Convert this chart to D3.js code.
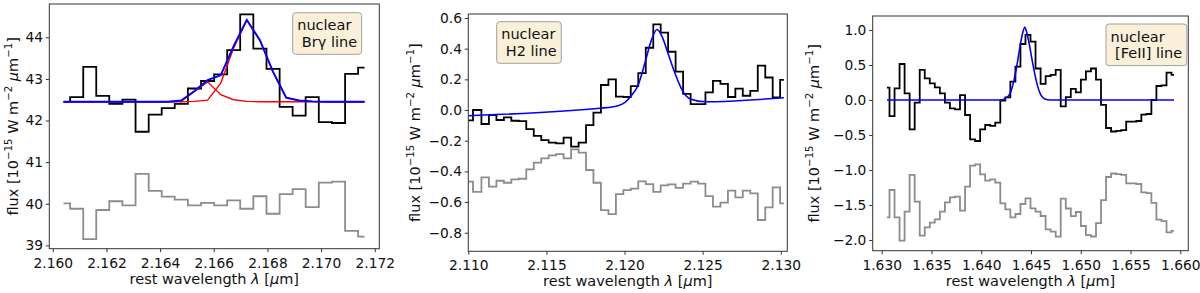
<!DOCTYPE html>
<html><head><meta charset="utf-8">
<script src="https://cdn.jsdelivr.net/npm/d3@7"></script>
<style>
html,body{margin:0;padding:0;background:#fff;}
svg{display:block;font-family:"DejaVu Sans",sans-serif;}
text{white-space:pre;}
</style></head><body>
<svg id="chart" width="1200" height="293"></svg>
<script>
// ---------------- Panel 1: nuclear Br-gamma line ----------------
const brgWave = [2.16040,2.16089,2.16138,2.16186,2.16235,2.16284,2.16333,2.16382,2.16430,2.16479,2.16528,2.16577,2.16626,2.16674,2.16723,2.16772,2.16821,2.16870,2.16918,2.16967,2.17016,2.17065,2.17114,2.17162];
const brgFlux = [42.45,42.56,43.29,42.59,42.40,42.50,41.73,42.14,42.30,42.40,42.77,42.95,43.11,43.69,44.55,43.73,43.24,42.33,42.12,42.56,41.96,41.94,43.12,43.27];
const brgOffset = [40.01,39.88,39.15,39.85,40.06,39.96,40.72,40.31,40.17,40.10,39.96,40.02,39.96,40.08,39.88,40.18,39.76,40.23,40.35,39.92,40.51,40.53,39.35,39.21];
const brgFit = [42.45,42.45,42.45,42.45,42.45,42.45,42.45,42.45,42.45,42.48,42.71,42.97,43.09,43.79,44.42,43.93,43.17,42.55,42.48,42.46,42.45,42.45,42.45,42.45];
const brgCompA = [42.45,42.45,42.45,42.45,42.45,42.45,42.45,42.45,42.45,42.47,42.70,42.93,42.62,42.50,42.46,42.45,42.45,42.45,42.45,42.45,42.45,42.45,42.45,42.45];
const brgCompB = [42.45,42.45,42.45,42.45,42.45,42.45,42.45,42.45,42.45,42.45,42.46,42.49,42.90,43.74,44.41,43.93,43.17,42.55,42.48,42.46,42.45,42.45,42.45,42.45];
const brgXTicks = [2.160,2.162,2.164,2.166,2.168,2.170,2.172];
const brgYTicks = [39,40,41,42,43,44];

// ---------------- Panel 2: nuclear H2 line ----------------
const h2Wave = [2.11000,2.11060,2.11108,2.11156,2.11204,2.11252,2.11299,2.11347,2.11395,2.11443,2.11491,2.11538,2.11586,2.11634,2.11682,2.11730,2.11777,2.11825,2.11873,2.11921,2.11969,2.12016,2.12064,2.12112,2.12160,2.12208,2.12255,2.12303,2.12351,2.12399,2.12447,2.12494,2.12542,2.12590,2.12638,2.12686,2.12733,2.12781,2.12829,2.12877,2.12925,2.12972,2.13020];
const h2Flux = [-0.068,0.000,-0.091,-0.033,-0.065,-0.048,-0.070,-0.072,-0.124,-0.169,-0.196,-0.213,-0.217,-0.180,-0.239,-0.213,-0.098,-0.017,0.163,0.200,0.087,0.085,0.156,0.240,0.406,0.558,0.504,0.380,0.250,0.105,0.039,0.039,0.115,0.190,0.170,0.085,0.140,0.093,0.125,0.290,0.212,0.083,0.196];
const h2Offset = [-0.467,-0.533,-0.439,-0.500,-0.461,-0.474,-0.452,-0.448,-0.387,-0.343,-0.315,-0.296,-0.287,-0.315,-0.257,-0.278,-0.391,-0.474,-0.652,-0.678,-0.548,-0.522,-0.513,-0.465,-0.483,-0.533,-0.491,-0.485,-0.507,-0.480,-0.467,-0.480,-0.561,-0.630,-0.604,-0.526,-0.570,-0.526,-0.543,-0.717,-0.635,-0.504,-0.609];
const h2FitWave = [2.11000,2.11843,2.11920,2.11958,2.12003,2.12048,2.12086,2.12112,2.12137,2.12170,2.12208,2.12240,2.12278,2.12323,2.12374,2.12426,2.12515,2.13020];
const h2Fit = [-0.037,0.012,0.020,0.028,0.050,0.100,0.160,0.240,0.330,0.450,0.525,0.480,0.370,0.240,0.120,0.070,0.054,0.080];
const h2XTicks = [2.110,2.115,2.120,2.125,2.130];
const h2YTicks = [-0.8,-0.6,-0.4,-0.2,0.0,0.2,0.4,0.6];

// ---------------- Panel 3: nuclear [FeII] line ----------------
const feWave = [1.63053,1.63104,1.63154,1.63205,1.63255,1.63306,1.63357,1.63407,1.63458,1.63508,1.63559,1.63610,1.63660,1.63711,1.63761,1.63812,1.63863,1.63913,1.63964,1.64014,1.64065,1.64116,1.64166,1.64217,1.64267,1.64318,1.64369,1.64419,1.64470,1.64520,1.64571,1.64622,1.64672,1.64723,1.64773,1.64824,1.64875,1.64925,1.64976,1.65026,1.65077,1.65128,1.65178,1.65229,1.65279,1.65330,1.65381,1.65431,1.65482,1.65532,1.65583,1.65634,1.65684,1.65735,1.65785,1.65836,1.65887,1.65937];
const feFlux = [0.176,-0.229,0.167,0.514,0.095,-0.419,-0.038,0.429,0.31,0.238,0.181,0.095,-0.038,-0.119,-0.133,0.071,-0.214,-0.562,-0.586,-0.419,-0.357,-0.371,-0.324,-0.01,0.038,0.262,0.476,0.8,0.929,0.833,0.45,0.23,0.34,0.36,0.43,-0.09,0.04,0.16,0.11,0.29,0.41,0.45,0.29,-0.07,-0.40,-0.45,-0.44,-0.43,-0.31,-0.31,-0.30,-0.21,-0.20,0.0,0.20,0.21,0.39,0.36];
const feOffset = [-1.676,-1.286,-1.676,-2.01,-1.595,-1.07,-1.452,-1.938,-1.819,-1.752,-1.705,-1.595,-1.462,-1.39,-1.381,-1.581,-1.238,-0.938,-0.919,-1.062,-1.152,-1.133,-1.181,-1.476,-1.562,-1.676,-1.629,-1.486,-1.405,-1.548,-1.595,-1.657,-1.848,-1.881,-1.952,-1.41,-1.55,-1.66,-1.6,-1.8,-1.93,-1.95,-1.76,-1.43,-1.1,-1.05,-1.06,-1.07,-1.19,-1.19,-1.2,-1.32,-1.33,-1.47,-1.71,-1.73,-1.89,-1.87];
const feFitWave = [1.63053,1.64189,1.64239,1.64289,1.64329,1.64359,1.64389,1.64415,1.64438,1.64460,1.64485,1.64510,1.64540,1.64570,1.64600,1.64640,1.64690,1.65937];
const feFit = [0.0,0.0,0.02,0.09,0.28,0.50,0.76,0.95,1.04,0.95,0.78,0.58,0.36,0.18,0.07,0.015,0.0,0.0];
const feXTicks = [1.630,1.635,1.640,1.645,1.650,1.655,1.660];
const feYTicks = [-2.0,-1.5,-1.0,-0.5,0.0,0.5,1.0];

const boxLabels = [["nuclear"," Brγ line"],["nuclear"," H2 line"],["nuclear"," [FeII] line"]];

// ---------------- drawing ----------------
const svg = d3.select("#chart");
const FS = 14.5;   // labels
const TFS = 13.8;  // tick labels
const minus = s => s.replace("-", "\u2212");
const zip = (xs, ys) => xs.map((x, i) => [x, ys[i]]);

const panels = [
  { frame:[49.3,4,379.3,248.7], xDom:[2.15987,2.17217], yDom:[38.92,44.80],
    xt:brgXTicks, yt:brgYTicks, xf:d=>d.toFixed(3), yf:d=>minus(d.toFixed(0)),
    ylabX:18.3, box:[292.7,12.7], lines:boxLabels[0],
    series:[
      {d:zip(brgWave,brgFlux), c:"#000", w:1.8, step:true},
      {d:zip(brgWave,brgOffset), c:"#8c8c8c", w:1.8, step:true},
      {d:zip(brgWave,brgCompA), c:"#ff0000", w:1.4},
      {d:zip(brgWave,brgCompB), c:"#ff0000", w:1.4},
      {d:zip(brgWave,brgFit), c:"#0000ff", w:1.9}
    ]},
  { frame:[468.3,14,787.3,251.3], xDom:[2.110,2.13042], yDom:[-0.921,0.626],
    xt:h2XTicks, yt:h2YTicks, xf:d=>d.toFixed(3), yf:d=>minus(d.toFixed(1)),
    ylabX:420, box:[496.7,21.7], lines:boxLabels[1],
    series:[
      {d:zip(h2Wave,h2Flux), c:"#000", w:1.8, step:true},
      {d:zip(h2Wave,h2Offset), c:"#8c8c8c", w:1.8, step:true},
      {d:zip(h2FitWave,h2Fit), c:"#0000ff", w:1.6, smooth:true}
    ]},
  { frame:[872.7,16,1188.3,250.7], xDom:[1.629096,1.660804], yDom:[-2.153,1.2],
    xt:feXTicks, yt:feYTicks, xf:d=>d.toFixed(3), yf:d=>minus(d.toFixed(1)),
    ylabX:819, box:[1106,24], lines:boxLabels[2],
    series:[
      {d:zip(feWave,feFlux), c:"#000", w:1.8, step:true},
      {d:zip(feWave,feOffset), c:"#8c8c8c", w:1.8, step:true},
      {d:zip(feFitWave,feFit), c:"#0000ff", w:1.6, smooth:true}
    ]}
];

panels.forEach((p, pi) => {
  const [L, T, R, B] = p.frame;
  const x = d3.scaleLinear().domain(p.xDom).range([L, R]);
  const y = d3.scaleLinear().domain(p.yDom).range([B, T]);
  const g = svg.append("g");
  const cid = "clip" + pi;
  g.append("clipPath").attr("id", cid).append("rect")
    .attr("x", L).attr("y", T).attr("width", R - L).attr("height", B - T);

  const lg = g.append("g").attr("clip-path", `url(#${cid})`);
  p.series.forEach(s => {
    const line = d3.line().x(d => x(d[0])).y(d => y(d[1]))
      .curve(s.step ? d3.curveStep : (s.smooth ? d3.curveMonotoneX : d3.curveLinear));
    lg.append("path").attr("d", line(s.d)).attr("fill", "none")
      .attr("stroke", s.c).attr("stroke-width", s.w).attr("stroke-linejoin", "miter");
  });

  // axes
  const ax = g.append("g").attr("transform", `translate(0,${B})`)
    .call(d3.axisBottom(x).tickValues(p.xt).tickFormat(p.xf).tickSize(3.5).tickPadding(5.6));
  const ay = g.append("g").attr("transform", `translate(${L},0)`)
    .call(d3.axisLeft(y).tickValues(p.yt).tickFormat(p.yf).tickSize(3.5).tickPadding(2.8));
  [ax, ay].forEach(a => {
    a.select(".domain").remove();
    a.attr("font-family", null).attr("font-size", null);
    a.selectAll("text").attr("font-size", TFS).attr("fill", "#111");
    a.selectAll("line").attr("stroke", "#333").attr("stroke-width", 1);
  });

  // frame
  g.append("rect").attr("x", L).attr("y", T).attr("width", R - L).attr("height", B - T)
    .attr("fill", "none").attr("stroke", "#333").attr("stroke-width", 1);

  // x label
  const xl = g.append("text").attr("x", (L + R) / 2).attr("y", B + 35)
    .attr("text-anchor", "middle").attr("font-size", FS).attr("fill", "#111");
  xl.append("tspan").text("rest wavelength ");
  xl.append("tspan").attr("font-style", "italic").text("λ");
  xl.append("tspan").text(" [");
  xl.append("tspan").attr("font-style", "italic").text("µ");
  xl.append("tspan").text("m]");

  // y label
  const yl = g.append("text").attr("transform", `translate(${p.ylabX},${(T + B) / 2}) rotate(-90)`)
    .attr("text-anchor", "middle").attr("font-size", FS).attr("fill", "#111");
  const sup = (t) => { yl.append("tspan").attr("font-size", 10.2).attr("dy", -6).text(t); };
  const back = (t) => { yl.append("tspan").attr("dy", 6).text(t); };
  yl.append("tspan").text("flux [10");
  sup("\u221215"); back(" W m");
  sup("\u22122"); back(" ");
  yl.append("tspan").attr("font-style", "italic").text("µ");
  yl.append("tspan").text("m");
  sup("\u22121"); back("]");

  // annotation box
  const bg = g.append("g");
  const rect = bg.append("rect");
  const tt = bg.append("text").attr("font-size", FS).attr("fill", "#111");
  p.lines.forEach((ln, i) => {
    tt.append("tspan").attr("x", 0).attr("y", i * 16.6).text(ln);
  });
  const bb = tt.node().getBBox();
  const pad = 4.5;
  const tx = p.box[0] + pad - bb.x, ty = p.box[1] + pad - bb.y;
  tt.attr("transform", `translate(${tx},${ty})`);
  rect.attr("x", p.box[0]).attr("y", p.box[1])
    .attr("width", bb.width + 2 * pad).attr("height", bb.height + 2 * pad)
    .attr("rx", 3).attr("ry", 3)
    .attr("fill", "#faefd9").attr("stroke", "#a0a0a0").attr("stroke-width", 1);
});
</script>
</body></html>
